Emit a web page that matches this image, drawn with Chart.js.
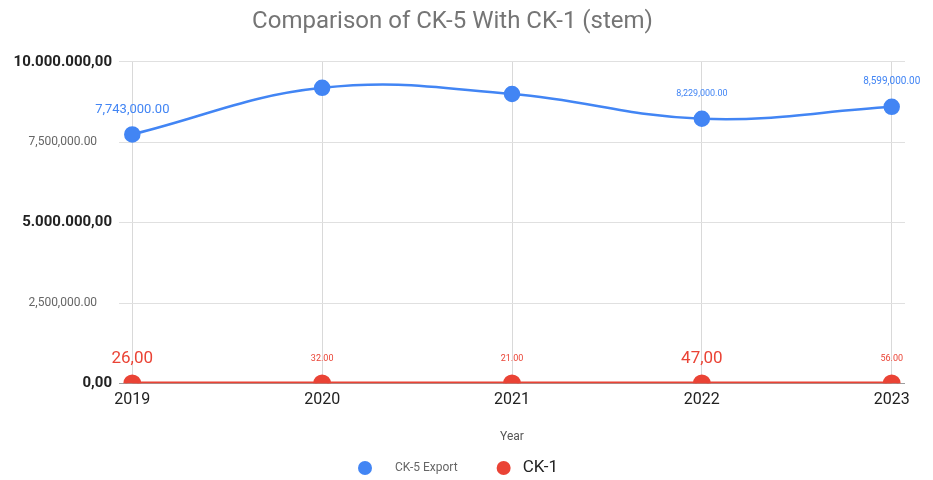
<!DOCTYPE html>
<html>
<head>
<meta charset="utf-8">
<script src="https://cdn.jsdelivr.net/npm/chart.js@4.4.0/dist/chart.umd.min.js"></script>
<style>
  html, body { margin: 0; padding: 0; background: #fff; }
  #wrap { width: 933px; height: 480px; }
</style>
</head>
<body>
<div id="wrap"><canvas id="chart"></canvas></div>
<script>
const years = [2019, 2020, 2021, 2022, 2023];
const ck5Export = [7743000, 9190000, 9000000, 8229000, 8599000];
const ck1 = [26, 32, 21, 47, 56];
const yTicks = [0, 2500000, 5000000, 7500000, 10000000];

// per-point value labels: font size (null = no label) and number format
const ck5LabelSize = [13, null, null, 9, 10];
const ck5LabelFmt = ['us', 'us', 'us', 'us', 'us'];
const ck1LabelSize = [17, 9, 9, 17, 9];
const ck1LabelFmt = ['eu', 'us', 'us', 'eu', 'us'];

const BLUE = '#4285f4';
const RED = '#ea4335';
const FONT = 'Roboto, "Liberation Sans", sans-serif';

const fmt = {
  us: v => v.toLocaleString('en-US', { minimumFractionDigits: 2, maximumFractionDigits: 2 }),
  eu: v => v.toLocaleString('de-DE', { minimumFractionDigits: 2, maximumFractionDigits: 2 })
};

const toPoints = (vals) => vals.map((v, i) => ({ x: years[i], y: v }));
const isMajor = (c) => !!(c && c.tick && c.tick.value % 5000000 === 0);

// cut datasets flagged with clipBottom at the x axis (red dots show as half discs)
const clipBottom = {
  id: 'clipBottom',
  beforeDatasetDraw(chart, args) {
    if (!chart.data.datasets[args.index].clipBottom) return;
    const a = chart.chartArea;
    chart.ctx.save();
    chart.ctx.beginPath();
    chart.ctx.rect(0, 0, chart.width, a.bottom);
    chart.ctx.clip();
  },
  afterDatasetDraw(chart, args) {
    if (!chart.data.datasets[args.index].clipBottom) return;
    chart.ctx.restore();
  }
};

// draws the value label above each point
const pointLabels = {
  id: 'pointLabels',
  afterDatasetsDraw(chart) {
    const ctx = chart.ctx;
    chart.data.datasets.forEach((ds, i) => {
      const meta = chart.getDatasetMeta(i);
      meta.data.forEach((pt, j) => {
        const size = ds.labelSizes[j];
        if (!size) return;
        ctx.save();
        ctx.font = size + 'px ' + FONT;
        ctx.fillStyle = ds.borderColor;
        ctx.textAlign = 'center';
        ctx.textBaseline = 'middle';
        ctx.fillText(fmt[ds.labelFmt[j]](ds.data[j].y), pt.x, pt.y - 25);
        ctx.restore();
      });
    });
  }
};

// legend with a different text style per entry
const dotLegend = {
  id: 'dotLegend',
  afterDraw(chart) {
    const ctx = chart.ctx;
    const y = 468;
    let x = 358;
    chart.data.datasets.forEach(ds => {
      ctx.save();
      ctx.fillStyle = ds.borderColor;
      ctx.beginPath();
      ctx.arc(x + 7, y, 7, 0, Math.PI * 2);
      ctx.fill();
      ctx.font = ds.legendFont.size + 'px ' + FONT;
      ctx.fillStyle = ds.legendFont.color;
      ctx.textBaseline = 'middle';
      ctx.textAlign = 'left';
      const tx = x + 14 + ds.legendFont.gap;
      ctx.fillText(ds.label, tx, y);
      x = tx + ctx.measureText(ds.label).width + 39;
      ctx.restore();
    });
  }
};

new Chart(document.getElementById('chart'), {
  type: 'line',
  data: {
    datasets: [
      {
        label: 'CK-5 Export',
        data: toPoints(ck5Export),
        borderColor: BLUE,
        backgroundColor: BLUE,
        borderWidth: 2.5,
        tension: 0.4,
        pointRadius: 7,
        pointHoverRadius: 7,
        labelSizes: ck5LabelSize,
        labelFmt: ck5LabelFmt,
        legendFont: { size: 12, color: '#666', gap: 23 }
      },
      {
        label: 'CK-1',
        data: toPoints(ck1),
        borderColor: RED,
        backgroundColor: RED,
        borderWidth: 4,
        tension: 0.4,
        pointRadius: 7,
        pointHoverRadius: 7,
        clipBottom: true,
        labelSizes: ck1LabelSize,
        labelFmt: ck1LabelFmt,
        legendFont: { size: 17, color: '#222', gap: 12 }
      }
    ]
  },
  options: {
    responsive: true,
    maintainAspectRatio: false,
    animation: false,
    layout: {
      padding: { top: 0, right: 28, bottom: 32, left: 0 }
    },
    plugins: {
      legend: { display: false },
      tooltip: { enabled: false },
      title: {
        display: true,
        text: 'Comparison of CK-5 With CK-1 (stem)',
        color: '#757575',
        font: { family: FONT, size: 24, weight: 'normal' },
        padding: { top: 8, bottom: 25 }
      }
    },
    scales: {
      x: {
        type: 'linear',
        min: 2018.93,
        max: 2023.07,
        afterBuildTicks: (scale) => {
          scale.ticks = years.map(v => ({ value: v }));
        },
        grid: {
          color: '#d9d9d9',
          drawTicks: false
        },
        border: { display: false },
        ticks: {
          color: '#222',
          font: { family: FONT, size: 16 },
          padding: 7,
          callback: (v) => String(v)
        },
        title: {
          display: true,
          text: 'Year',
          color: '#555',
          font: { family: FONT, size: 12 },
          padding: { top: 13, bottom: 4 }
        }
      },
      y: {
        min: 0,
        max: 10000000,
        afterBuildTicks: (scale) => {
          scale.ticks = yTicks.map(v => ({ value: v }));
        },
        afterFit: (scale) => {
          scale.width = 119;
        },
        grid: {
          color: (c) => (c.tick && c.tick.value === 0 ? '#9e9e9e' : '#e0e0e0'),
          drawTicks: false
        },
        border: { display: false },
        ticks: {
          padding: 7,
          color: (c) => (isMajor(c) ? '#222' : '#666'),
          font: (c) => (isMajor(c)
            ? { family: FONT, size: 15, weight: 'bold' }
            : { family: FONT, size: 12 }),
          // minor labels sit further from the axis in the original
          callback: (v) => (v % 5000000 === 0 ? fmt.eu(v) : fmt.us(v) + '     ')
        }
      }
    }
  },
  plugins: [clipBottom, pointLabels, dotLegend]
});
</script>
</body>
</html>
